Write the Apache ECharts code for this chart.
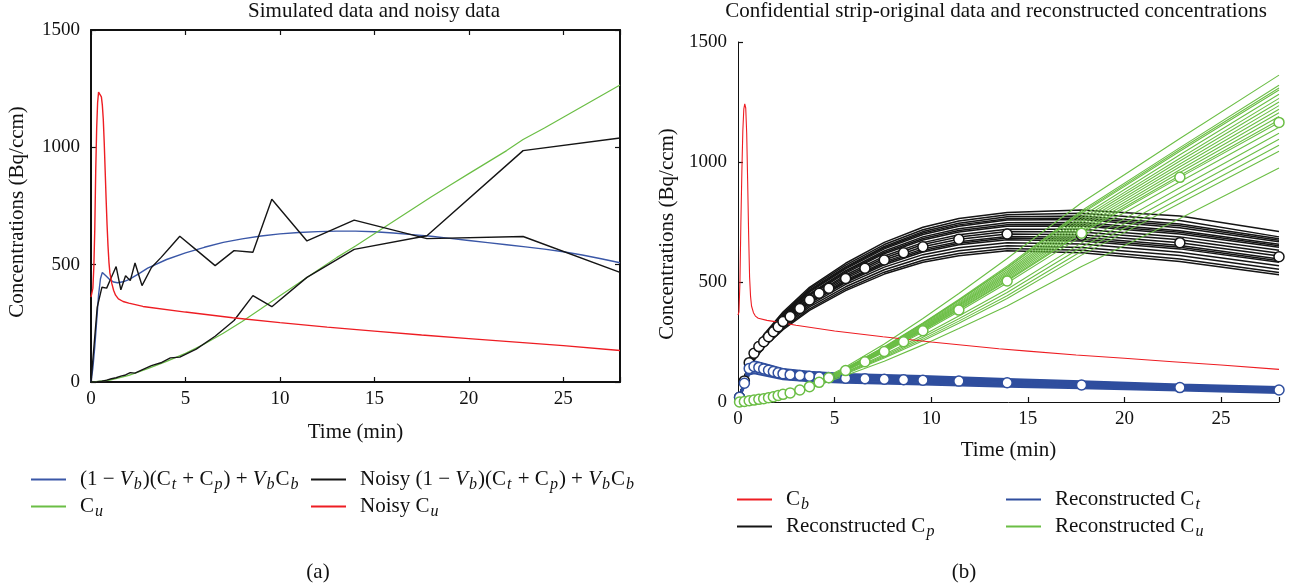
<!DOCTYPE html>
<html>
<head>
<meta charset="utf-8">
<script src="https://cdn.jsdelivr.net/npm/echarts@6/dist/echarts.min.js"></script>
<style>
html, body { margin: 0; padding: 0; background: #fff; }
#main { width: 1290px; height: 588px; }
</style>
</head>
<body>
<div id="main"></div>
<script>
// tick labels
const xTicks = [0, 5, 10, 15, 20, 25];
const yTicks = [0, 500, 1000, 1500];

// panel (a): simulated data
const redTimesA = [0, 0.05, 0.1, 0.15, 0.2, 0.25, 0.3, 0.35, 0.4, 0.45, 0.5, 0.55, 0.6, 0.65, 0.7, 0.75, 0.8, 0.85, 0.9, 0.95, 1.0, 1.1, 1.2, 1.3, 1.45, 1.7, 2.0, 2.75, 5, 7.5, 10, 12.5, 15, 17.5, 20, 22.5, 25, 28];
const redValuesA = [362, 365, 400, 490, 650, 900, 1080, 1190, 1235, 1242, 1238, 1215, 1180, 1120, 1020, 900, 780, 670, 580, 510, 465, 420, 390, 370, 354, 343, 336, 322, 298, 274, 253, 234, 217, 200, 185, 170, 155, 134];

const blueTimesA = [0, 0.1, 0.2, 0.3, 0.4, 0.5, 0.6, 0.7, 0.8, 1.0, 1.2, 1.4, 1.7, 2, 2.5, 3, 4, 5, 6, 7, 8, 9, 10, 11, 12, 13, 14, 15, 16, 17, 18, 19, 20, 21, 22, 23, 24, 25, 26, 27, 28];
const blueValuesA = [0, 60, 150, 260, 370, 440, 467, 462, 452, 436, 426, 423, 427, 436, 460, 485, 522, 550, 574, 595, 610, 622, 631, 637, 641, 643, 643, 640, 635, 628, 621, 612, 603, 594, 585, 576, 566, 555, 541, 525, 508];

const greenTimesA = [0, 1, 2, 3, 4, 5, 6, 7, 8, 9, 10, 11, 12, 13, 14, 15, 16, 17, 18, 19, 20, 21, 22, 22.87, 24, 25, 26, 27, 28];
const greenValuesA = [0, 8, 28, 57, 88, 122, 162, 208, 258, 312, 368, 422, 476, 530, 580, 632, 684, 736, 788, 838, 888, 937, 986, 1033, 1082, 1128, 1174, 1220, 1266];

const noisyTimes = [0, 0.33, 0.58, 0.83, 1.08, 1.33, 1.58, 1.83, 2.08, 2.33, 2.7, 3.2, 3.7, 4.2, 4.7, 5.57, 6.57, 7.57, 8.57, 9.57, 11.43, 13.93, 17.78, 22.87, 28];
const noisyTotal = [0, 319, 404, 400, 446, 492, 393, 453, 432, 507, 411, 488, 530, 575, 621, 563, 496, 560, 553, 779, 601, 690, 611, 620, 467];
const noisyCu = [0, 1, 3, 8, 14, 18, 25, 30, 40, 38, 52, 70, 82, 103, 106, 140, 195, 262, 368, 321, 446, 565, 623, 986, 1040];

// panel (b): input function and measured frames
const redTimesB = [0, 0.05, 0.1, 0.15, 0.2, 0.25, 0.3, 0.35, 0.4, 0.45, 0.5, 0.55, 0.6, 0.65, 0.7, 0.8, 0.9, 1.05, 1.5, 2, 3, 5, 7.5, 10, 13.5, 15, 17.5, 20, 22.5, 25, 28];
const redValuesB = [362, 375, 500, 750, 960, 1130, 1220, 1242, 1225, 1120, 920, 700, 520, 440, 400, 372, 358, 349, 340, 334, 320, 296, 272, 250, 222, 212, 196, 182, 168, 154, 136];

const frameTimes = [0.08, 0.33, 0.58, 0.83, 1.08, 1.33, 1.58, 1.83, 2.08, 2.33, 2.7, 3.2, 3.7, 4.2, 4.7, 5.57, 6.57, 7.57, 8.57, 9.57, 11.43, 13.93, 17.78, 22.87, 28];
const cpMeasured = [20, 88, 164, 203, 231, 251, 272, 293, 314, 335, 356, 390, 425, 453, 474, 515, 557, 592, 622, 647, 678, 700, 695, 664, 605];
const ctMeasured = [20, 78, 140, 148, 144, 138, 132, 127, 122, 118, 114, 110, 107, 104, 102, 99, 97, 95, 93, 91, 87, 80, 71, 60, 50];
const cuMeasured = [0, 2, 5, 8, 11, 14, 18, 22, 27, 32, 38, 50, 64, 82, 101, 131, 168, 210, 251, 297, 383, 504, 703, 936, 1165];

// reconstructed curves
const cpNodes = [0.08, 0.33, 0.58, 1.33, 2.33, 3.7, 5.57, 7.57, 9.57, 11.43, 13.93, 17.78, 22.87, 28];
const cpCurves = [
  [22, 98, 182, 280, 375, 478, 578, 665, 728, 765, 790, 800, 775, 710],
  [22, 97, 180, 277, 370, 472, 570, 656, 718, 754, 780, 786, 756, 688],
  [22, 96, 178, 274, 366, 466, 563, 648, 710, 745, 772, 775, 742, 680],
  [21, 95, 177, 272, 363, 462, 559, 643, 704, 738, 764, 767, 734, 674],
  [21, 95, 176, 270, 360, 458, 555, 638, 698, 732, 758, 760, 726, 668],
  [21, 94, 173, 266, 355, 451, 547, 629, 688, 722, 747, 748, 714, 657],
  [21, 93, 172, 264, 352, 447, 542, 623, 681, 715, 739, 740, 707, 651],
  [21, 92, 170, 262, 349, 443, 537, 618, 675, 708, 732, 733, 700, 645],
  [20, 91, 168, 258, 344, 436, 529, 608, 664, 697, 720, 720, 688, 632],
  [20, 90, 166, 255, 340, 431, 522, 600, 656, 688, 710, 708, 676, 620],
  [20, 88, 164, 251, 335, 425, 515, 592, 647, 678, 700, 697, 664, 608],
  [20, 87, 162, 248, 330, 419, 508, 584, 638, 668, 690, 686, 652, 596],
  [19, 86, 160, 245, 327, 415, 503, 578, 631, 661, 683, 678, 645, 589],
  [19, 85, 159, 243, 324, 411, 498, 572, 625, 655, 676, 671, 638, 582],
  [19, 84, 156, 239, 318, 404, 490, 562, 614, 643, 664, 658, 624, 568],
  [19, 82, 153, 234, 312, 396, 480, 551, 602, 630, 651, 644, 610, 553],
  [18, 80, 150, 229, 306, 388, 471, 541, 591, 619, 640, 632, 596, 540],
  [18, 79, 148, 226, 301, 382, 464, 533, 582, 609, 630, 622, 585, 530]
];

const cuNodes = [0.08, 1.33, 2.33, 3.7, 5.57, 7.57, 9.57, 11.43, 13.93, 17.78, 22.87, 28];
const cuCurves = [
  [0, 14, 33, 69, 146, 242, 348, 452, 598, 830, 1098, 1362],
  [0, 14, 33, 67, 141, 230, 329, 427, 566, 797, 1060, 1320],
  [0, 14, 33, 67, 140, 228, 327, 424, 561, 790, 1052, 1308],
  [0, 14, 33, 67, 139, 227, 325, 422, 558, 785, 1045, 1300],
  [0, 14, 33, 66, 138, 225, 321, 416, 551, 773, 1030, 1282],
  [0, 14, 33, 66, 137, 223, 317, 412, 544, 763, 1016, 1265],
  [0, 14, 32, 66, 136, 221, 314, 407, 538, 754, 1004, 1250],
  [0, 14, 32, 65, 135, 219, 311, 403, 532, 745, 992, 1235],
  [0, 14, 32, 65, 134, 217, 308, 399, 526, 736, 980, 1220],
  [0, 14, 32, 65, 133, 215, 305, 394, 520, 727, 968, 1205],
  [0, 14, 32, 64, 132, 213, 302, 390, 514, 718, 956, 1190],
  [0, 14, 32, 64, 131, 211, 299, 386, 508, 709, 944, 1175],
  [0, 14, 32, 64, 131, 210, 297, 383, 504, 703, 936, 1165],
  [0, 14, 32, 63, 129, 207, 292, 377, 496, 690, 918, 1145],
  [0, 14, 32, 62, 125, 198, 278, 358, 470, 663, 893, 1120],
  [0, 14, 31, 61, 123, 193, 270, 347, 456, 645, 870, 1095],
  [0, 14, 31, 60, 120, 188, 262, 337, 443, 628, 848, 1070],
  [0, 13, 30, 59, 117, 183, 255, 328, 431, 612, 828, 1045],
  [0, 13, 29, 56, 110, 170, 238, 306, 400, 565, 765, 975]
];

const ctNodes = [0.08, 0.33, 0.58, 0.83, 1.33, 2.33, 3.7, 5.57, 9.57, 13.93, 17.78, 22.87, 28];
const ctCurves = [
  [22, 90, 160, 170, 160, 138, 126, 117, 108, 96, 86, 73, 62],
  [21, 88, 157, 167, 157, 135, 123, 114, 105, 93, 83, 70, 59],
  [21, 86, 154, 164, 154, 132, 120, 111, 102, 90, 80, 68, 57],
  [21, 82, 148, 157, 147, 126, 114, 106, 97, 85, 76, 64, 54],
  [20, 80, 143, 151, 141, 120, 109, 101, 93, 82, 72, 61, 51],
  [20, 76, 137, 144, 134, 115, 104, 96, 88, 77, 68, 58, 48],
  [19, 72, 130, 137, 127, 109, 98, 91, 84, 73, 65, 55, 45],
  [19, 68, 122, 128, 119, 102, 92, 85, 78, 69, 61, 51, 42],
  [18, 64, 114, 120, 111, 95, 86, 80, 73, 64, 57, 48, 38]
];

const FONT = 'Liberation Serif';
const INK = '#111';
const RED = '#ee1d23';
const BLUE_A = '#3a57a7';
const BLUE_B = '#2f4e9e';
const GREEN = '#6bbe45';
const BLACK = '#151515';

function pairs(ts, vs) {
  return ts.map((t, i) => [t, vs[i]]);
}

// legend labels, with italic symbols and subscripts
const legendText = {
  sim: '(1 − {i|V}{s|b})(C{s|t} + C{s|p}) + {i|V}{s|b}C{s|b}',
  cu: 'C{s|u}',
  noisy: 'Noisy (1 − {i|V}{s|b})(C{s|t} + C{s|p}) + {i|V}{s|b}C{s|b}',
  noisyCu: 'Noisy C{s|u}',
  cb: 'C{s|b}',
  recCp: 'Reconstructed C{s|p}',
  recCt: 'Reconstructed C{s|t}',
  recCu: 'Reconstructed C{s|u}'
};

function legend(names, left, top) {
  return {
    data: names, left: left, top: top, orient: 'vertical', padding: 0,
    icon: 'rect', itemWidth: 35, itemHeight: 2, itemGap: 0,
    selectedMode: false,
    formatter: n => legendText[n],
    textStyle: {
      fontFamily: FONT, fontSize: 21, color: INK, lineHeight: 27, padding: [0, 0, 0, 9],
      rich: {
        i: { fontFamily: FONT, fontSize: 21, fontStyle: 'italic', color: INK, lineHeight: 27 },
        s: { fontFamily: FONT, fontSize: 16, fontStyle: 'italic', color: INK, lineHeight: 15, verticalAlign: 'bottom', padding: [0, 1, 0, 1] }
      }
    }
  };
}

const tickFmt = v => xTicks.includes(v) ? String(v) : '';
const yFmt = v => yTicks.includes(v) ? String(v) : '';

function xAxis(grid, pos, lineW, withLabels, gap) {
  return {
    type: 'value', gridIndex: grid, position: pos, min: 0, max: 28, interval: 5,
    axisLine: { show: true, onZero: false, lineStyle: { color: INK, width: lineW } },
    axisTick: { show: true, inside: true, length: 5, lineStyle: { color: INK, width: 1.2 } },
    axisLabel: { show: withLabels, margin: 8, fontFamily: FONT, fontSize: 19, color: INK, formatter: tickFmt },
    splitLine: { show: false },
    name: withLabels ? 'Time (min)' : '', nameLocation: 'middle', nameGap: gap,
    nameTextStyle: { fontFamily: FONT, fontSize: 21, color: INK }
  };
}

function yAxis(grid, pos, lineW, withLabels, gap, shift) {
  return {
    type: 'value', gridIndex: grid, position: pos, min: 0, max: 1500, interval: 500,
    axisLine: { show: true, onZero: false, lineStyle: { color: INK, width: lineW } },
    axisTick: { show: true, inside: true, length: 5, lineStyle: { color: INK, width: 1.2 } },
    axisLabel: { show: withLabels, margin: 11, fontFamily: FONT, fontSize: 19, color: INK, formatter: yFmt },
    splitLine: { show: false },
    name: withLabels ? 'Concentrations (Bq/ccm)' : '', nameLocation: 'middle', nameGap: gap,
    nameTextStyle: { fontFamily: FONT, fontSize: 21, color: INK, padding: [0, shift, 0, 0] }
  };
}

function line(name, data, color, width, xi, yi, z) {
  return {
    type: 'line', name: name, data: data, xAxisIndex: xi, yAxisIndex: yi,
    showSymbol: false, symbol: 'none', color: color, z: z || 2,
    lineStyle: { color: color, width: width }, emphasis: { disabled: true }
  };
}

function marks(data, color) {
  return {
    type: 'scatter', data: data, xAxisIndex: 2, yAxisIndex: 2,
    symbol: 'circle', symbolSize: 10, z: 10,
    itemStyle: { color: '#fff', borderColor: color, borderWidth: 1.5, opacity: 1 },
    emphasis: { disabled: true }
  };
}

const series = [
  // panel (a)
  line('sim', pairs(blueTimesA, blueValuesA), BLUE_A, 1.4, 0, 0),
  line('cu', pairs(greenTimesA, greenValuesA), GREEN, 1.2, 0, 0),
  line('noisy', pairs(noisyTimes, noisyTotal), BLACK, 1.4, 0, 0, 3),
  line('noisy', pairs(noisyTimes, noisyCu), BLACK, 1.4, 0, 0, 3),
  line('noisyCu', pairs(redTimesA, redValuesA), RED, 1.4, 0, 0, 4)
];

// panel (b)
cpCurves.forEach(c => series.push(line('recCp', pairs(cpNodes, c), BLACK, 1.5, 2, 2, 2)));
ctCurves.forEach(c => series.push(line('recCt', pairs(ctNodes, c), BLUE_B, 2, 2, 2, 3)));
cuCurves.forEach(c => series.push(line('recCu', pairs(cuNodes, c), GREEN, 1.1, 2, 2, 4)));
series.push(line('cb', pairs(redTimesB, redValuesB), RED, 1.1, 2, 2, 5));
series.push(marks(pairs(frameTimes, cpMeasured), BLACK));
series.push(marks(pairs(frameTimes, ctMeasured), BLUE_B));
series.push(marks(pairs(frameTimes, cuMeasured), GREEN));

const titleStyle = { fontFamily: FONT, fontSize: 21, fontWeight: 'normal', color: INK };

const option = {
  animation: false,
  backgroundColor: '#fff',
  title: [
    { text: 'Simulated data and noisy data', left: 374, top: 1, textAlign: 'center', padding: 0, textStyle: titleStyle },
    { text: 'Confidential strip-original data and reconstructed concentrations', left: 996, top: 1, textAlign: 'center', padding: 0, textStyle: titleStyle },
    { text: '(a)', left: 318, top: 562, textAlign: 'center', padding: 0, textStyle: titleStyle },
    { text: '(b)', left: 964, top: 562, textAlign: 'center', padding: 0, textStyle: titleStyle }
  ],
  legend: [
    legend(['sim', 'cu'], 31, 466),
    legend(['noisy', 'noisyCu'], 311, 466),
    legend(['cb', 'recCp'], 737, 486),
    legend(['recCt', 'recCu'], 1006, 486)
  ],
  grid: [
    { left: 91, top: 30, width: 529, height: 352 },
    { left: 738, top: 42, width: 541, height: 360 }
  ],
  xAxis: [
    xAxis(0, 'bottom', 2, true, 40),
    xAxis(0, 'top', 2, false, 0),
    xAxis(1, 'bottom', 1, true, 38)
  ],
  yAxis: [
    yAxis(0, 'left', 2, true, 63, 12),
    yAxis(0, 'right', 2, false, 0, 0),
    yAxis(1, 'left', 1, true, 60, 24)
  ],
  series: series
};

const chart = echarts.init(document.getElementById('main'));
chart.setOption(option);
</script>
</body>
</html>
